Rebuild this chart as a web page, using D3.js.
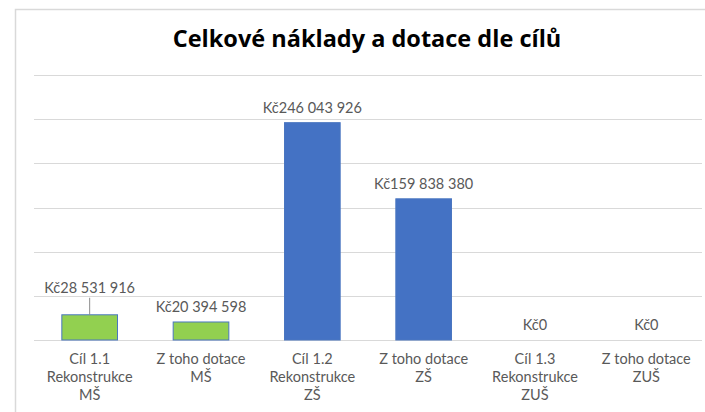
<!DOCTYPE html>
<html>
<head>
<meta charset="utf-8">
<script src="https://cdn.jsdelivr.net/npm/d3@7"></script>
<style>
  body { margin: 0; background: #fff; }
  text { font-family: Lato, "Open Sans", sans-serif; }
</style>
</head>
<body>
<script>
// chart data
var categories = [
  ["Cíl 1.1", "Rekonstrukce", "MŠ"],
  ["Z toho dotace", "MŠ"],
  ["Cíl 1.2", "Rekonstrukce", "ZŠ"],
  ["Z toho dotace", "ZŠ"],
  ["Cíl 1.3", "Rekonstrukce", "ZUŠ"],
  ["Z toho dotace", "ZUŠ"]
];
var values = [28531916, 20394598, 246043926, 159838380, 0, 0];
var barColors = ["#92d050", "#92d050", "#4472c4", "#4472c4", "#4472c4", "#4472c4"];
var yTicks = [0, 50000000, 100000000, 150000000, 200000000, 250000000, 300000000];
var title = "Celkové náklady a dotace dle cílů";

var width = 705, height = 412;
var margin = {left: 34, right: 3, top: 75, bottom: 72};

var svg = d3.select("body").append("svg").attr("width", width).attr("height", height);

// outer frame (only top and left edges visible)
svg.append("path")
  .attr("d", "M15.5," + height + "V9.5H" + width)
  .attr("fill", "none").attr("stroke", "#d9d9d9").attr("stroke-width", 1.5);

var x = d3.scaleBand()
  .domain(d3.range(categories.length))
  .range([margin.left, width - margin.right])
  .paddingInner(0.5).paddingOuter(0.25);

var y = d3.scaleLinear()
  .domain([0, d3.max(yTicks)])
  .range([height - margin.bottom, margin.top]);

var cz = d3.formatLocale({decimal: ",", thousands: "\u00a0", grouping: [3], currency: ["Kč", ""]});
var fmt = cz.format("$,");

// gridlines
svg.append("g")
  .selectAll("line")
  .data(yTicks)
  .enter().append("line")
  .attr("x1", margin.left).attr("x2", width - margin.right)
  .attr("y1", function(d){ return Math.round(y(d)) + 0.5; })
  .attr("y2", function(d){ return Math.round(y(d)) + 0.5; })
  .attr("stroke", "#d9d9d9").attr("stroke-width", 1.2);

// bars
svg.append("g")
  .selectAll("rect")
  .data(values)
  .enter().append("rect")
  .attr("x", function(d,i){ return x(i); })
  .attr("width", x.bandwidth())
  .attr("y", function(d){ return y(d); })
  .attr("height", function(d){ return y(0) - y(d); })
  .attr("fill", function(d,i){ return barColors[i]; })
  .attr("stroke", function(d,i){ return d > 0 ? "#4a76c0" : "none"; })
  .attr("stroke-width", 1);

// data labels; first one is pulled up with a leader line
var labelRaise = [12, 0, 0, 0, 0, 0];
var labels = svg.append("g");
values.forEach(function(d, i) {
  var cx = x(i) + x.bandwidth() / 2;
  var ly = y(d) - 10 - labelRaise[i];
  labels.append("text")
    .attr("x", cx).attr("y", ly)
    .attr("text-anchor", "middle")
    .attr("font-size", 14.5)
    .attr("fill", "#595959")
    .text(fmt(d));
  if (labelRaise[i] > 0) {
    labels.append("line")
      .attr("x1", cx).attr("x2", cx)
      .attr("y1", ly + 5).attr("y2", y(d))
      .attr("stroke", "#8c8c8c").attr("stroke-width", 1);
  }
});

// category labels
var xAxis = svg.append("g");
categories.forEach(function(lines, i) {
  var t = xAxis.append("text")
    .attr("x", x(i) + x.bandwidth() / 2)
    .attr("y", y(0) + 24)
    .attr("text-anchor", "middle")
    .attr("font-size", 14.5)
    .attr("fill", "#595959");
  lines.forEach(function(s, j) {
    t.append("tspan")
      .attr("x", x(i) + x.bandwidth() / 2)
      .attr("dy", j === 0 ? 0 : 18)
      .text(s);
  });
});

svg.append("text")
  .attr("x", 367)
  .attr("y", 47)
  .attr("text-anchor", "middle")
  .style("font-family", "'Open Sans', sans-serif")
  .attr("font-size", 23.5)
  .attr("font-weight", "bold")
  .attr("fill", "#000")
  .text(title);
</script>
</body>
</html>
